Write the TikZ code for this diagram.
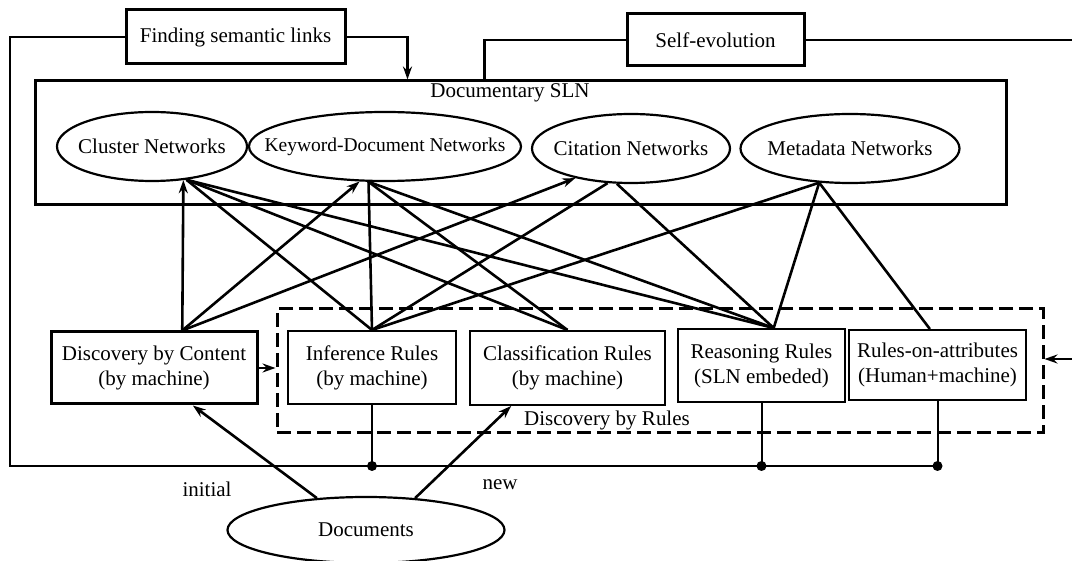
\documentclass[tikz,border=0pt]{standalone}
\usepackage{fontspec}
\setmainfont{Liberation Serif}
\usetikzlibrary{calc,arrows.meta,shapes.geometric}
\def\nettext#1{\makebox[0pt]{#1}}

\begin{document}
\begin{tikzpicture}[x=1pt, y=-1pt,
		font=\fontsize{21}{25}\selectfont,
		box/.style={draw, line width=3pt, inner sep=0pt, align=center},
		rulebox/.style={draw, line width=2pt, inner sep=0pt, align=center},
		net/.style={draw, ellipse, line width=2.2pt, inner sep=0pt},
		link/.style={line width=2.6pt},
		feed/.style={line width=2.6pt},
		drop/.style={line width=2pt},
		tip/.style={-{Stealth[length=13pt, width=9pt]}}]
		%%%%% START %%%%%
		
		\useasboundingbox (0, 0) rectangle (1072, 561);
		
		\node[box, minimum width=219pt, minimum height=54pt] (find) at (235.5, 37) {Finding semantic links};
		\node[box, minimum width=177pt, minimum height=52pt] (self) at (715.5, 40) {Self-evolution};
		
		\node[box, minimum width=971pt, minimum height=124pt] (sln) at (520.5, 143) {};
		\node (slnlabel) at (510, 93) {Documentary SLN};
		
		\node[net, minimum width=190pt, minimum height=69pt] (clu) at (152, 146.5) {\nettext{Cluster Networks}};
		\node[net, minimum width=272pt, minimum height=69pt, font=\fontsize{19.5}{25}\selectfont] (kdn) at (385, 146.5) {\nettext{Keyword-Document Networks}};
		\node[net, minimum width=198pt, minimum height=69pt] (cit) at (631, 148.5) {\nettext{Citation Networks}};
		\node[net, minimum width=219pt, minimum height=69pt] (meta) at (850, 148.5) {\nettext{Metadata Networks}};
		
		\node[box, minimum width=206pt, minimum height=72pt] (dc) at (154, 368) {Discovery by Content\\(by machine)};
		\node[rulebox, minimum width=168pt, minimum height=73pt] (inf) at (372, 367.5) {Inference Rules\\(by machine)};
		\node[rulebox, minimum width=195pt, minimum height=74pt] (cls) at (567.5, 368) {Classification Rules\\(by machine)};
		\node[rulebox, minimum width=167pt, minimum height=73pt] (rea) at (761.5, 365.5) {Reasoning Rules\\(SLN embeded)};
		\node[rulebox, minimum width=177pt, minimum height=70pt] (roa) at (937.5, 365) {Rules-on-attributes\\(Human+machine)};
		
		\node[draw, line width=3pt, dash pattern=on 14pt off 6pt, minimum width=766pt, minimum height=124pt] (rules) at (660, 371) {};
		\node (ruleslabel) at (607, 420) {Discovery by Rules};
		
		\node[net, minimum width=277pt, minimum height=66pt] (doc) at (366, 530) {\nettext{Documents}};
		\node (ini) at (207, 489) {initial};
		\node (new) at (500, 485) {new};
		
		% feedback
		\coordinate (bot) at (10, 466);
		\coordinate (far) at (1090, 40);
		\draw[feed] (find.west) -| (bot) -- (roa.south |- bot);
		\draw[feed, tip] (find.east) -| ($(sln.north west)+(374, 0)$);
		\draw[feed] (self.west) -| ($(sln.north west)+(451, 0)$);
		\draw[feed, tip] (self.east) -- (self.east -| far) |- ($(rules.east)+(0, -12)$);
		
		\draw[drop] (inf.south) -- (inf.south |- bot);
		\draw[drop] (rea.south) -- (rea.south |- bot);
		\draw[drop] (roa.south) -- (roa.south |- bot);
		\fill (inf.south |- bot) circle (5);
		\fill (rea.south |- bot) circle (5);
		\fill (roa.south |- bot) circle (5);
		
		% discovery
		\draw[link, tip] (dc.east) -- (dc.east -| rules.west);
		\draw[link, tip] (doc.147) -- (dc.-44);
		\draw[link, tip] (doc.33) -- (cls.-146);
		
		\draw[link, tip] (dc.53) -- (clu.-47);
		\draw[link, tip] (dc.53) -- (kdn.-126);
		\draw[link, tip] (dc.53) -- (cit.-152);
		
		\draw[link] (clu.-44) -- (inf.north);
		\draw[link] (clu.-44) -- (cls.north);
		\draw[link] (clu.-44) -- (rea.72);
		\draw[link] (kdn.-115) -- (inf.north);
		\draw[link] (kdn.-115) -- (cls.north);
		\draw[link] (kdn.-115) -- (rea.72);
		\draw[link] (cit.-124) -- (inf.north);
		\draw[link] (cit.-112) -- (rea.72);
		\draw[link] (meta.-132) -- (inf.north);
		\draw[link] (meta.-132) -- (rea.72);
		\draw[link] (meta.-132) -- (roa.102);
		
		%%%%% END %%%%%
	\end{tikzpicture}
\end{document}
